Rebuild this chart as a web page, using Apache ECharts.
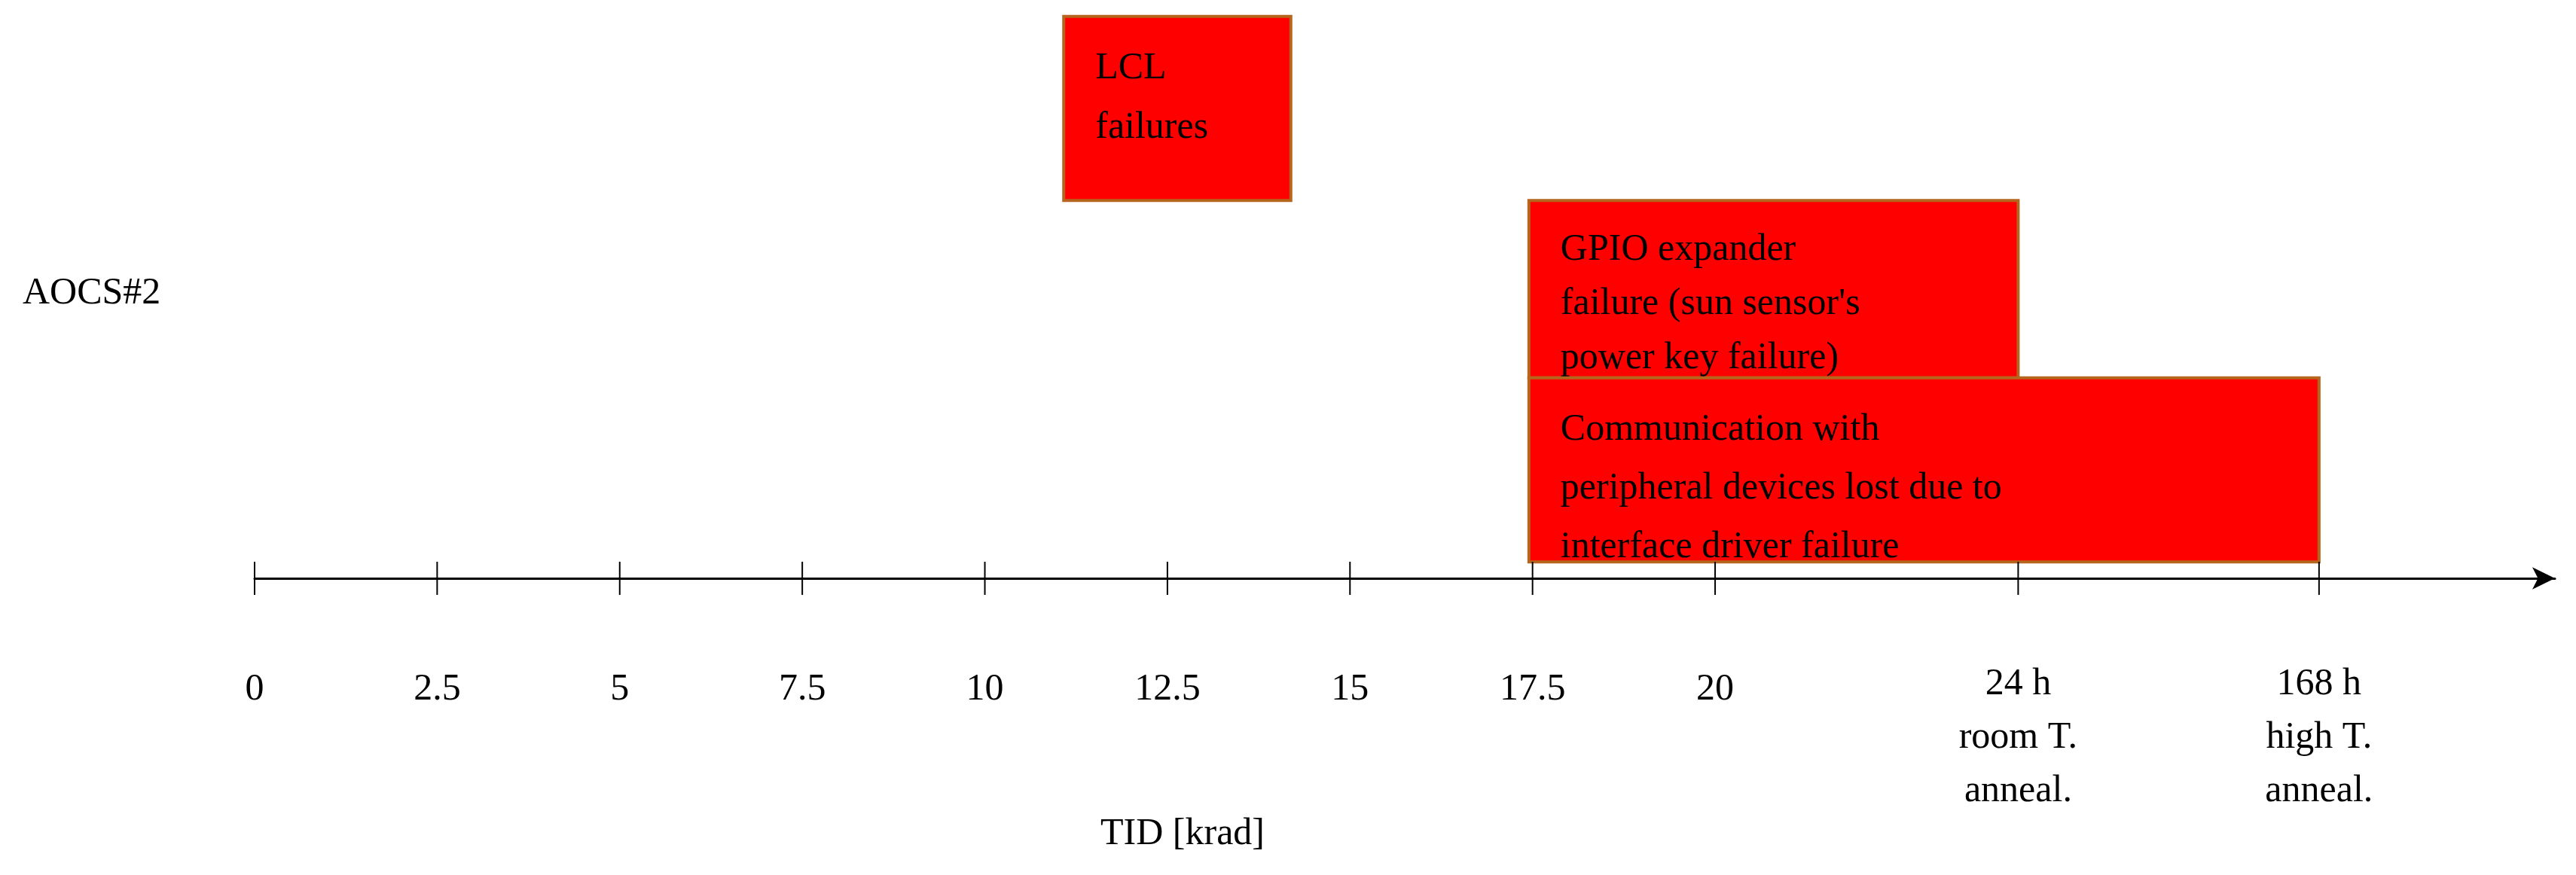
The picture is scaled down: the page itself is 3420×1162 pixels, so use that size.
<!DOCTYPE html>
<html>
<head>
<meta charset="utf-8">
<script src="https://cdn.jsdelivr.net/npm/echarts@6/dist/echarts.min.js"></script>
<style>html,body{margin:0;background:#fff}#c{width:3420px;height:1162px}</style>
</head>
<body>
<div id="c"></div>
<script>
// positions along the TID axis
const tickValues = [0, 2.5, 5, 7.5, 10, 12.5, 15, 17.5, 20, 24.15, 28.27];
const tickLabels = ['0', '2.5', '5', '7.5', '10', '12.5', '15', '17.5', '20',
  '24 h\nroom T.\nanneal.', '168 h\nhigh T.\nanneal.'];
// failure boxes: x start/end on TID axis, vertical extent (height above axis)
const eventStart = [11.08, 17.45, 17.45];
const eventEnd = [14.19, 24.15, 28.27];
const eventLow = [230, 122, 10];
const eventHigh = [342, 230, 122];
const eventText = [
  'LCL\nfailures',
  'GPIO expander\nfailure (sun sensor\'s\npower key failure)',
  'Communication with\nperipheral devices lost due to\ninterface driver failure'
];
const eventLineHeight = [79, 72, 78];

const FONT = '"Liberation Serif", "DejaVu Serif", serif';
const chart = echarts.init(document.getElementById('c'));

const boxData = eventStart.map((s, i) => [s, eventEnd[i], eventLow[i], eventHigh[i], i]);

chart.setOption({
  animation: false,
  grid: { left: 338, right: 28, top: 0, bottom: 394 },
  xAxis: {
    type: 'value', min: 0, max: 31.5,
    splitLine: { show: false }, axisTick: { show: false }, axisLabel: { show: false },
    axisLine: { onZero: false, symbol: ['none', 'arrow'], symbolSize: [22, 30], symbolOffset: [0, 0],
      lineStyle: { color: '#000', width: 3 } }
  },
  yAxis: { type: 'value', min: 0, max: 352, show: false },
  graphic: [
    { type: 'text', left: 30, top: 365, style: { text: 'AOCS#2', font: '50px ' + FONT, fill: '#000' } },
    { type: 'text', x: 1570, y: 1108, style: { text: 'TID [krad]', font: '50px ' + FONT, fill: '#000', align: 'center', verticalAlign: 'middle' } }
  ],
  series: [
    {
      type: 'custom',
      data: boxData,
      renderItem: function (params, api) {
        const p0 = api.coord([api.value(0), api.value(3)]);
        const p1 = api.coord([api.value(1), api.value(2)]);
        const i = api.value(4);
        return {
          type: 'group',
          children: [
            { type: 'rect', shape: { x: p0[0], y: p0[1], width: p1[0] - p0[0], height: p1[1] - p0[1] },
              style: { fill: '#ff0000', stroke: '#b5651d', lineWidth: 4 } },
            { type: 'text', x: p0[0] + 42, y: p0[1] + 30,
              style: { text: eventText[i], font: '50px ' + FONT, fill: '#000', lineHeight: eventLineHeight[i], verticalAlign: 'top' } }
          ]
        };
      }
    },
    {
      type: 'custom',
      data: tickValues.map((v, i) => [v, i]),
      renderItem: function (params, api) {
        const p = api.coord([api.value(0), 0]);
        const i = api.value(1);
        const multi = tickLabels[i].indexOf('\n') >= 0;
        return {
          type: 'group',
          children: [
            { type: 'line', shape: { x1: p[0], y1: p[1] - 22, x2: p[0], y2: p[1] + 22 },
              style: { stroke: '#000', lineWidth: 2 } },
            { type: 'text', x: p[0], y: multi ? p[1] + 105 : p[1] + 148,
              style: { text: tickLabels[i], font: '50px ' + FONT, fill: '#000', align: 'center',
                verticalAlign: multi ? 'top' : 'middle', lineHeight: 71 } }
          ]
        };
      }
    }
  ]
});
// fix multi-line label anchor: first line center at axis+105
</script>
</body>
</html>
